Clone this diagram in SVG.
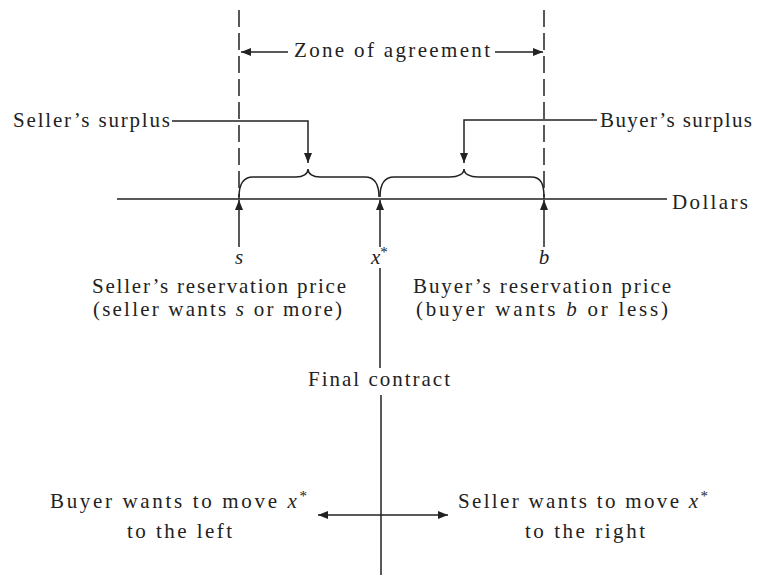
<svg xmlns="http://www.w3.org/2000/svg" width="765" height="576" viewBox="0 0 765 576">
<style>
text{font-family:"Liberation Serif","Times New Roman",serif;font-size:21px;fill:#222}
.i{font-style:italic}
.ln{stroke:#222;stroke-width:1.5;fill:none}
.dash{stroke:#222;stroke-width:1.5;fill:none;stroke-dasharray:17 6}
</style>
<defs>
<marker id="ah" viewBox="0 0 10 8" refX="10" refY="4" markerWidth="10" markerHeight="8" markerUnits="userSpaceOnUse" orient="auto">
<path d="M0,0 L10,4 L0,8 Z" fill="#222"/>
</marker>
</defs>
<rect width="765" height="576" fill="#fff"/>
<g id="connectors">
<line class="dash" x1="239" y1="10" x2="239" y2="199"/>
<line class="dash" x1="544" y1="10" x2="544" y2="199"/>
<line class="ln" x1="288" y1="52" x2="241" y2="52" marker-end="url(#ah)"/>
<line class="ln" x1="495" y1="52" x2="543" y2="52" marker-end="url(#ah)"/>
<line class="ln" x1="117" y1="199" x2="667" y2="199"/>
<path class="ln" d="M239,197 C239,184 243,177 253,177 L296,177 C303,177 308,174 308,169 C308,174 313,177 320,177 L365,177 C375,177 379,184 379,197"/>
<path class="ln" d="M380,197 C380,184 384,177 394,177 L450,177 C458,177 464,174 464,169 C464,174 470,177 478,177 L531,177 C541,177 544,184 544,197"/>
<path class="ln" d="M172,121 L308,121 L308,163" marker-end="url(#ah)"/>
<path class="ln" d="M597,120 L464,120 L464,163" marker-end="url(#ah)"/>
<line class="ln" x1="239" y1="247" x2="239" y2="200" marker-end="url(#ah)"/>
<line class="ln" x1="380" y1="247" x2="380" y2="200" marker-end="url(#ah)"/>
<line class="ln" x1="544" y1="247" x2="544" y2="200" marker-end="url(#ah)"/>
<line class="ln" x1="380" y1="268" x2="380" y2="368"/>
<line class="ln" x1="381" y1="395" x2="381" y2="575"/>
<line class="ln" x1="381" y1="515" x2="318" y2="515" marker-end="url(#ah)"/>
<line class="ln" x1="381" y1="515" x2="448" y2="515" marker-end="url(#ah)"/>
</g>
<g id="zone"><text x="294" y="57" textLength="196" lengthAdjust="spacing">Zone of agreement</text></g>
<g id="seller-surplus"><text x="13" y="127" textLength="157" lengthAdjust="spacing">Seller’s surplus</text></g>
<g id="buyer-surplus"><text x="600" y="127" textLength="152" lengthAdjust="spacing">Buyer’s surplus</text></g>
<g id="dollars"><text x="672" y="209" textLength="76" lengthAdjust="spacing">Dollars</text></g>
<g id="s"><text class="i" x="239" y="264" text-anchor="middle">s</text></g>
<g id="xstar"><text x="371" y="264"><tspan class="i">x</tspan><tspan font-size="15" dy="-7">*</tspan></text></g>
<g id="b"><text class="i" x="544" y="264" text-anchor="middle">b</text></g>
<g id="seller-res">
<text x="92" y="293" textLength="254" lengthAdjust="spacing">Seller’s reservation price</text>
<text x="93" y="316" textLength="249" lengthAdjust="spacing">(seller wants <tspan class="i">s</tspan> or more)</text>
</g>
<g id="buyer-res">
<text x="413" y="293" textLength="258" lengthAdjust="spacing">Buyer’s reservation price</text>
<text x="416" y="316" textLength="252" lengthAdjust="spacing">(buyer wants <tspan class="i">b</tspan> or less)</text>
</g>
<g id="final"><text x="308" y="386" textLength="142" lengthAdjust="spacing">Final contract</text></g>
<g id="buyer-move">
<text x="50" y="508" textLength="257" lengthAdjust="spacing">Buyer wants to move <tspan class="i">x</tspan><tspan font-size="15" dy="-7">*</tspan></text>
<text x="127" y="538" textLength="105" lengthAdjust="spacing">to the left</text>
</g>
<g id="seller-move">
<text x="458" y="508" textLength="250" lengthAdjust="spacing">Seller wants to move <tspan class="i">x</tspan><tspan font-size="15" dy="-7">*</tspan></text>
<text x="525" y="538" textLength="120" lengthAdjust="spacing">to the right</text>
</g>
</svg>
